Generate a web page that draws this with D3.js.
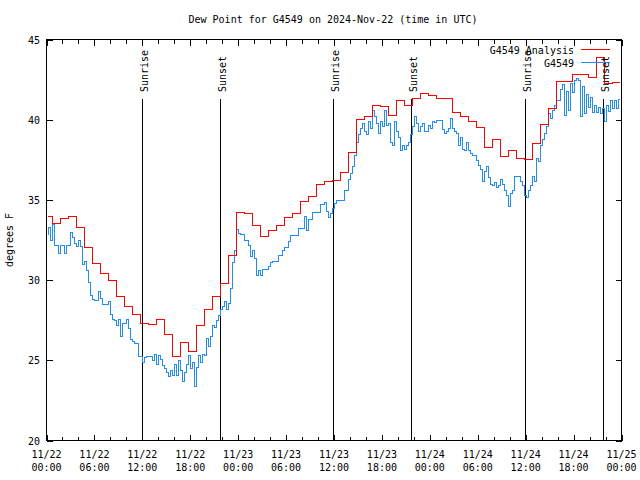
<!DOCTYPE html>
<html><head><meta charset="utf-8">
<script src="https://cdn.jsdelivr.net/npm/d3@7"></script>
<style>
body{margin:0;background:#fff}
svg text{font-family:"DejaVu Sans Mono","Liberation Mono",monospace;font-size:10px;fill:#000}
</style></head><body>
<svg id="c" width="640" height="480"></svg>
<script>
// ---------- data ----------
const title = "Dew Point for G4549 on 2024-Nov-22 (time in UTC)";
const yLabel = "degrees F";
const seriesNames = ["G4549 Analysis", "G4549"];
const xTickHours = [0, 6, 12, 18, 24, 30, 36, 42, 48, 54, 60, 66, 72];
const xTickDates = ["11/22","11/22","11/22","11/22","11/23","11/23","11/23","11/23","11/24","11/24","11/24","11/24","11/25"];
const xTickTimes = ["00:00","06:00","12:00","18:00","00:00","06:00","12:00","18:00","00:00","06:00","12:00","18:00","00:00"];
const xMinorHours = [2,4,8,10,14,16,20,22,26,28,32,34,38,40,44,46,50,52,56,58,62,64,68,70];
const yTicks = [20, 25, 30, 35, 40, 45];
const sunNames = ["Sunrise", "Sunset", "Sunrise", "Sunset", "Sunrise", "Sunset"];
const sunHours = [11.9, 21.78, 35.93, 45.68, 59.92, 69.7];
// analysis (hourly, each value takes effect 15 min before the hour)
const redValues = [34.0, 33.57, 33.88, 34.0, 33.34, 32.09, 31.05, 30.43, 30.02, 29.0,
  28.4, 27.86, 27.3, 27.25, 27.59, 26.65, 25.24, 26.13, 25.61, 27.23,
  28.21, 29.0, 29.85, 31.58, 34.23, 34.18, 33.45, 32.75, 33.14, 33.45,
  33.92, 34.19, 34.96, 35.25, 36.0, 36.17, 36.21, 36.71, 37.97, 40.05,
  40.2, 40.93, 40.87, 40.32, 41.24, 40.89, 41.33, 41.66, 41.51, 41.38,
  41.38, 40.5, 40.25, 39.95, 39.53, 38.29, 38.82, 37.76, 38.12, 37.62,
  37.56, 38.55, 39.72, 40.74, 42.4, 42.44, 42.86, 42.86, 42.69, 43.94,
  42.3, 42.38];
const redOffset = -0.25;
// observations, one every 15 minutes
const blueStep = 0.25;
const blueValues = [
  32.9, 33.3, 32.5, 33.5,   32.2, 32.16, 31.7, 32.16,   32.16, 31.68, 32.16, 32.16,
  33.0, 32.7, 32.3, 32.1,   32.5, 32.1, 31.0, 31.2,     30.6, 29.9, 29.1, 28.8,
  28.73, 28.73, 29.3, 28.9, 28.5, 28.5, 28.5, 28.7,     27.9, 27.6, 27.5, 27.2,
  27.6, 26.5, 27.3, 27.3,   27.59, 27.0, 26.3, 26.2,    26.1, 26.1, 25.24, 25.24,
  24.9, 25.2, 25.24, 25.24, 25.24, 25.0, 25.4, 24.8,    25.3, 25.1, 24.7, 24.5,
  24.3, 24.0, 24.4, 24.1,   24.8, 24.1, 25.0, 24.4,     23.7, 24.3, 24.8, 25.3,
  24.5, 24.9, 23.4, 24.6,   25.3, 24.9, 25.4, 25.3,     26.4, 25.9, 26.5, 27.2,
  27.1, 27.5, 27.8, 28.2,   28.4, 28.7, 28.2, 28.6,     29.5, 31.1, 31.9, 33.2,
  32.93, 32.9, 32.9, 32.5,  32.51, 32.16, 31.5, 31.9,   31.4, 30.3, 30.6, 30.3,
  30.7, 30.7, 30.7, 30.9,   31.1, 31.16, 31.16, 31.16,  31.58, 31.58, 31.85, 32.05,
  32.05, 32.43, 32.8, 32.82, 32.82, 32.82, 33.26, 33.26, 33.26, 34.0, 33.1, 33.82,
  33.82, 34.23, 34.23, 34.23, 34.23, 34.76, 34.76, 34.86, 34.3, 33.92, 34.2, 34.5,
  34.8, 35.0, 35.0, 35.0,   35.0, 35.63, 35.63, 36.3,   36.7, 37.1, 37.8, 38.6,
  39.12, 39.5, 39.8, 39.3,  39.1, 39.9, 39.5, 40.6,     40.2, 39.8, 39.2, 39.9,
  39.6, 40.6, 39.7, 39.8,   38.6, 38.4, 39.9, 39.3,     38.9, 38.1, 38.4, 38.2,
  38.4, 38.6, 39.1, 39.6,   40.2, 39.8, 39.3, 39.6,     39.8, 39.3, 39.3, 39.7,
  39.5, 39.9, 39.85, 39.99, 39.99, 39.99, 39.4, 39.2,   39.3, 39.5, 40.1, 39.5,
  39.3, 39.2, 38.4, 38.9,   38.2, 38.1, 38.6, 38.1,     37.9, 37.8, 37.8, 37.5,
  37.2, 36.9, 36.2, 36.8,   37.1, 36.4, 36.0, 35.9,     36.1, 35.8, 35.9, 36.3,
  36.0, 35.6, 35.3, 34.65,  35.4, 35.6, 36.5, 36.5,     36.5, 36.2, 35.9, 35.3,
  35.2, 35.6, 35.9, 36.5,   36.2, 37.6, 37.4, 38.4,     38.8, 39.2, 39.6, 40.4,
  40.1, 40.6, 40.9, 41.2,   41.2, 41.9, 42.2, 40.3,     41.8, 40.6, 42.3, 41.7,
  42.5, 42.6, 42.5, 40.2,   42.1, 40.4, 41.6, 40.8,     41.4, 40.5, 40.9, 40.5,
  40.8, 40.4, 40.7, 39.9,   40.9, 40.57, 41.2, 40.7,    41.2, 40.7, 41.3, 40.7];
const endHour = 71.67;
const colors = ["#ff0000", "#1e8cff"];

// ---------- build ----------
const svg = d3.select("#c");
const L = 46.5, R = 621.5, T = 39.5, B = 440.5;
const x = d3.scaleLinear().domain([0, 72]).range([L, R]);
const y = d3.scaleLinear().domain([20, 45]).range([B, T]);

// series points
const redPts = redValues.map((v, k) => [Math.max(0, k + redOffset), v]);
redPts.push([endHour, redValues[redValues.length - 1]]);
const bluePts = blueValues.map((v, i) => [i * blueStep, v]).filter(d => d[0] < endHour);
bluePts.push([endHour, bluePts[bluePts.length - 1][1]]);

const line = d3.line().x(d => Math.round(x(d[0])) + 0.5).y(d => Math.round(y(d[1])) + 0.5).curve(d3.curveStepAfter);

const g = svg.append("g").attr("shape-rendering", "crispEdges");

// title
svg.append("text").attr("x", 333).attr("y", 23).attr("text-anchor", "middle").text(title);
// y label
svg.append("text").attr("transform", "translate(13,240) rotate(-90)").attr("text-anchor", "middle").text(yLabel);

// sun lines
sunHours.forEach((h, i) => {
  const xx = Math.round(x(h)) + 0.5;
  g.append("line").attr("x1", xx).attr("x2", xx).attr("y1", 99).attr("y2", B)
    .attr("stroke", "#000").attr("stroke-width", 1);
  svg.append("text").attr("transform", `translate(${xx + 5},92) rotate(-90)`)
    .attr("text-anchor", "start").text(sunNames[i]);
});

// data lines
g.append("path").attr("d", line(bluePts)).attr("fill", "none").attr("stroke", colors[1]).attr("stroke-width", 1);
g.append("path").attr("d", line(redPts)).attr("fill", "none").attr("stroke", colors[0]).attr("stroke-width", 1);

// axes (ticks inward, mirrored)
const xb = d3.axisBottom(x).tickValues(xTickHours).tickSize(-6).tickFormat("");
const xbm = d3.axisBottom(x).tickValues(xMinorHours).tickSize(-4).tickFormat("");
const xt = d3.axisTop(x).tickValues(xTickHours).tickSize(-6).tickFormat("");
const xtm = d3.axisTop(x).tickValues(xMinorHours).tickSize(-4).tickFormat("");
const yl = d3.axisLeft(y).tickValues(yTicks).tickSize(-6).tickFormat("");
const yr = d3.axisRight(y).tickValues(yTicks).tickSize(-6).tickFormat("");
[[xb, `translate(0,${B})`], [xbm, `translate(0,${B})`], [xt, `translate(0,${T})`], [xtm, `translate(0,${T})`],
 [yl, `translate(${L},0)`], [yr, `translate(${R},0)`]].forEach(([ax, tr]) => {
  const a = g.append("g").attr("transform", tr).call(ax);
  a.select(".domain").remove();
  a.selectAll("line").attr("stroke", "#000");
});
// frame
g.append("rect").attr("x", L).attr("y", T).attr("width", R - L).attr("height", B - T)
  .attr("fill", "none").attr("stroke", "#000");

// tick labels
xTickHours.forEach((h, i) => {
  const t = svg.append("text").attr("x", x(h)).attr("text-anchor", "middle");
  t.append("tspan").attr("x", x(h)).attr("y", 458).text(xTickDates[i]);
  t.append("tspan").attr("x", x(h)).attr("y", 471).text(xTickTimes[i]);
});
yTicks.forEach(v => {
  svg.append("text").attr("x", 40).attr("y", y(v) + 4).attr("text-anchor", "end").text(v);
});

// legend
seriesNames.forEach((n, i) => {
  const ly = 49.5 + i * 13;
  svg.append("text").attr("x", 574).attr("y", ly + 4).attr("text-anchor", "end").text(n);
  g.append("line").attr("x1", 581).attr("x2", 610).attr("y1", ly).attr("y2", ly)
    .attr("stroke", colors[i]).attr("stroke-width", 1);
});
</script>
</body></html>
